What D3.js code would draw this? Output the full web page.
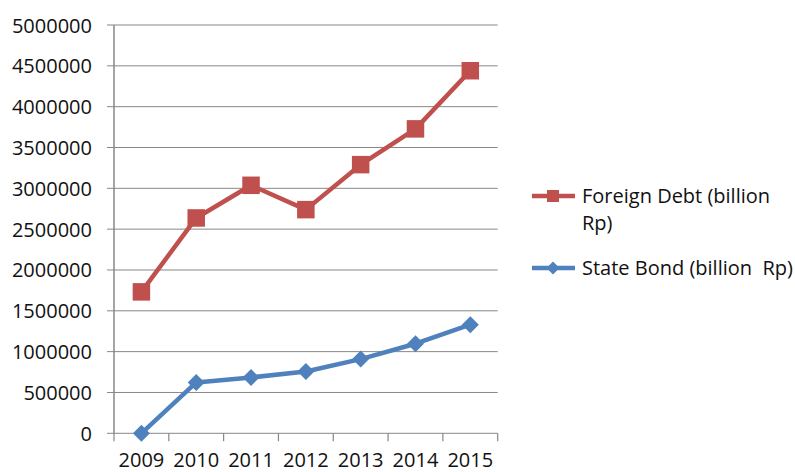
<!DOCTYPE html>
<html>
<head>
<meta charset="utf-8">
<script src="https://cdn.jsdelivr.net/npm/d3@7/dist/d3.min.js"></script>
<style>
  html, body { margin: 0; padding: 0; background: #fff; }
  svg { display: block; }
  text { font-family: "Open Sans", "Noto Sans", sans-serif; fill: #111; }
</style>
</head>
<body>
<svg id="chart" width="795" height="472"></svg>
<script>
// Years on the category axis
const years = ["2009", "2010", "2011", "2012", "2013", "2014", "2015"];
// Foreign debt, billion Rp
const foreignDebt = [1732000, 2637000, 3037000, 2739000, 3290000, 3728000, 4440000];
// State bonds, billion Rp
const stateBond = [0, 623000, 684000, 757000, 909000, 1097000, 1330000];
// Value axis ticks
const yTicks = [0, 500000, 1000000, 1500000, 2000000, 2500000, 3000000, 3500000, 4000000, 4500000, 5000000];

const series = [
  { name: "Foreign Debt (billion", name2: "Rp)", values: foreignDebt, color: "#C0504D", marker: "square" },
  { name: "State Bond (billion\u00a0 Rp)", values: stateBond, color: "#4F81BD", marker: "diamond" }
];

const svg = d3.select("#chart");
const plot = { left: 114, right: 497.7, top: 25, bottom: 433.3 };
const fontSize = 20;

const x = d3.scaleBand().domain(years).range([plot.left, plot.right]).padding(0);
const y = d3.scaleLinear().domain([0, 5000000]).range([plot.bottom, plot.top]);
const cx = d => x(d) + x.bandwidth() / 2;

const gridColor = "#878787";

// Horizontal gridlines, extending left of the axis as tick marks
svg.append("g")
  .selectAll("line")
  .data(yTicks)
  .join("line")
  .attr("x1", plot.left - 7)
  .attr("x2", plot.right)
  .attr("y1", d => y(d))
  .attr("y2", d => y(d))
  .attr("stroke", gridColor)
  .attr("stroke-width", 1);

// Value axis labels
const yAxis = d3.axisLeft(y).tickValues(yTicks).tickSize(0).tickPadding(0).tickFormat(d3.format("d"));
svg.append("g")
  .attr("transform", `translate(${plot.left - 22},0)`)
  .call(yAxis)
  .call(g => g.select(".domain").remove())
  .call(g => g.selectAll("text")
    .attr("font-size", fontSize)
    .attr("font-family", "'Open Sans', sans-serif")
    .attr("fill", "#111")
    .attr("dy", "0.35em"));

// Vertical axis line
svg.append("line")
  .attr("x1", plot.left).attr("x2", plot.left)
  .attr("y1", plot.top).attr("y2", plot.bottom)
  .attr("stroke", gridColor).attr("stroke-width", 1.5);

// Category axis with tick marks between bands
const boundaries = years.map(d => x(d)).concat([plot.right]);
svg.append("g")
  .selectAll("line")
  .data(boundaries)
  .join("line")
  .attr("x1", d => d).attr("x2", d => d)
  .attr("y1", plot.bottom).attr("y2", plot.bottom + 8)
  .attr("stroke", gridColor).attr("stroke-width", 1.2);

svg.append("g")
  .selectAll("text")
  .data(years)
  .join("text")
  .attr("x", d => cx(d))
  .attr("y", 467)
  .attr("text-anchor", "middle")
  .attr("font-size", fontSize)
  .text(d => d);

// Marker shapes
function drawMarker(g, type, px, py, size, color) {
  if (type === "square") {
    g.append("rect")
      .attr("x", px - size / 2).attr("y", py - size / 2)
      .attr("width", size).attr("height", size)
      .attr("fill", color);
  } else {
    const h = size / 2;
    g.append("path")
      .attr("d", `M${px},${py - h}L${px + h},${py}L${px},${py + h}L${px - h},${py}Z`)
      .attr("fill", color);
  }
}

const line = d3.line().x((d, i) => cx(years[i])).y(d => y(d));

series.forEach(s => {
  const g = svg.append("g");
  g.append("path")
    .datum(s.values)
    .attr("d", line)
    .attr("fill", "none")
    .attr("stroke", s.color)
    .attr("stroke-width", 4.5)
    .attr("stroke-linejoin", "round");
  s.values.forEach((v, i) => {
    drawMarker(g, s.marker, cx(years[i]), y(v), s.marker === "square" ? 17.5 : 17, s.color);
  });
});

// Legend
const legend = svg.append("g");
const legendRows = [
  { s: series[0], ly: 196 },
  { s: series[1], ly: 268 }
];
legendRows.forEach(({ s, ly }) => {
  legend.append("line")
    .attr("x1", 532).attr("x2", 575)
    .attr("y1", ly).attr("y2", ly)
    .attr("stroke", s.color).attr("stroke-width", 4.5);
  drawMarker(legend, s.marker, 553, ly, s.marker === "square" ? 12 : 13, s.color);
  legend.append("text")
    .attr("x", 582).attr("y", ly + 7)
    .attr("font-size", fontSize)
    .text(s.name);
  if (s.name2) {
    legend.append("text")
      .attr("x", 582).attr("y", ly + 34)
      .attr("font-size", fontSize)
      .text(s.name2);
  }
});
</script>
</body>
</html>
